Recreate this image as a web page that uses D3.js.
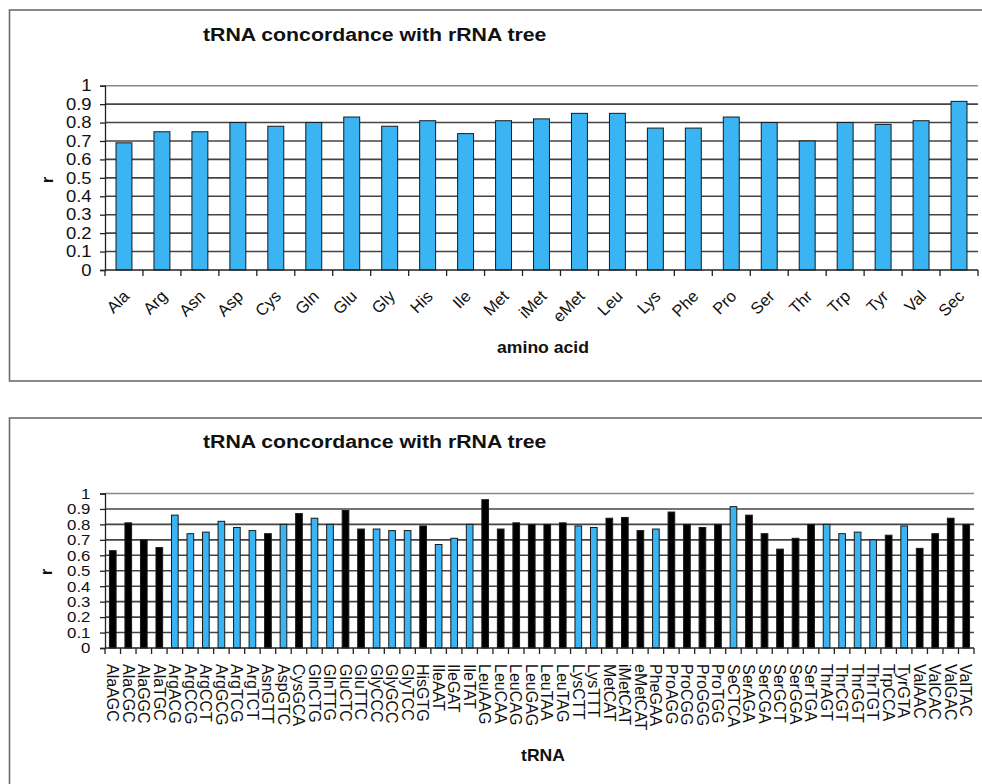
<!DOCTYPE html>
<html>
<head>
<meta charset="utf-8">
<script src="https://cdn.jsdelivr.net/npm/d3@7/dist/d3.min.js"></script>
<style>
  html, body { margin: 0; padding: 0; background: #fff; }
  svg { display: block; }
  text { font-family: "Liberation Sans", Arial, sans-serif; fill: #111; }
</style>
</head>
<body>
<svg id="chart" width="982" height="784"></svg>
<script>
// ---- Amino-acid level concordance ----
const aminoAcids = ["Ala","Arg","Asn","Asp","Cys","Gln","Glu","Gly","His","Ile","Met","iMet","eMet","Leu","Lys","Phe","Pro","Ser","Thr","Trp","Tyr","Val","Sec"];
const aminoR = [0.69,0.75,0.75,0.80,0.78,0.80,0.83,0.78,0.81,0.74,0.81,0.82,0.85,0.85,0.77,0.77,0.83,0.80,0.70,0.80,0.79,0.81,0.915];

// ---- Per-tRNA (anticodon) concordance ----
const tRNAs = ["AlaAGC","AlaCGC","AlaGGC","AlaTGC","ArgACG","ArgCCG","ArgCCT","ArgGCG","ArgTCG","ArgTCT",
  "AsnGTT","AspGTC","CysGCA","GlnCTG","GlnTTG","GluCTC","GluTTC","GlyCCC","GlyGCC","GlyTCC",
  "HisGTG","IleAAT","IleGAT","IleTAT","LeuAAG","LeuCAA","LeuCAG","LeuGAG","LeuTAA","LeuTAG",
  "LysCTT","LysTTT","MetCAT","iMetCAT","eMetCAT","PheGAA","ProAGG","ProCGG","ProGGG","ProTGG",
  "SeCTCA","SerAGA","SerCGA","SerGCT","SerGGA","SerTGA","ThrAGT","ThrCGT","ThrGGT","ThrTGT",
  "TrpCCA","TyrGTA","ValAAC","ValCAC","ValGAC","ValTAC"];
const tRNAr = [0.63,0.81,0.70,0.65,0.86,0.74,0.75,0.82,0.78,0.76,
  0.74,0.80,0.87,0.84,0.80,0.89,0.77,0.77,0.76,0.76,
  0.79,0.67,0.71,0.80,0.96,0.77,0.81,0.80,0.80,0.81,
  0.79,0.78,0.84,0.845,0.76,0.77,0.88,0.80,0.78,0.80,
  0.915,0.86,0.74,0.64,0.71,0.80,0.80,0.74,0.75,0.70,
  0.73,0.79,0.645,0.74,0.84,0.80];
// group of each tRNA (0 = group A, 1 = group B)
const tRNAgroup = [0,0,0,0,1,1,1,1,1,1,
  0,1,0,1,1,0,0,1,1,1,
  0,1,1,1,0,0,0,0,0,0,
  1,1,0,0,0,1,0,0,0,0,
  1,0,0,0,0,0,1,1,1,1,
  0,1,0,0,0,0];

const rTicks = [0,0.1,0.2,0.3,0.4,0.5,0.6,0.7,0.8,0.9,1];
const chartTitle = "tRNA concordance with rRNA tree";

const BLUE = "#3AB4F2";
const groupColor = d3.scaleOrdinal().domain([0,1]).range(["#000000", BLUE]);
const WIDE = 1.12;   // horizontal stretch of the lettering

const svg = d3.select("#chart");

function panel(opts) {
  const g = svg.append("g");
  // panel frame (open to the right edge)
  g.append("rect")
    .attr("x", 9.5).attr("y", opts.frameTop)
    .attr("width", 1000).attr("height", opts.frameH)
    .attr("fill", "none").attr("stroke", "#6d6d6d").attr("stroke-width", 1.6);

  g.append("text")
    .attr("transform", `translate(203,${opts.titleY}) scale(${WIDE},1)`)
    .attr("font-size", 19).attr("font-weight", "bold")
    .text(chartTitle);

  const x = d3.scaleBand().domain(opts.cats)
    .range([opts.x0, opts.x1]).paddingInner(opts.pad).paddingOuter(opts.pad / 2);
  const y = d3.scaleLinear().domain([0, 1]).range([opts.y0, opts.y1]);
  const step = x.step();

  // horizontal grid lines
  g.append("g").selectAll("line").data(rTicks.slice(1)).join("line")
    .attr("x1", opts.x0).attr("x2", opts.x1)
    .attr("y1", d => y(d)).attr("y2", d => y(d))
    .attr("stroke", d => d === 1 ? "#888" : "#444").attr("stroke-width", 1.6);

  // y axis
  const yAxis = g.append("g").attr("transform", `translate(${opts.x0},0)`)
    .call(d3.axisLeft(y).tickValues(rTicks).tickFormat(d3.format("~g")).tickSize(5).tickPadding(opts.yPad));
  yAxis.select(".domain").attr("stroke", "#222").attr("stroke-width", 1.3);
  yAxis.selectAll(".tick line").attr("stroke", "#222").attr("stroke-width", 1.3);
  yAxis.selectAll(".tick text").attr("font-size", opts.yFont)
    .attr("transform", `scale(${WIDE},1)`)
    .attr("font-family", "Liberation Sans, Arial, sans-serif").attr("fill", "#111");

  // bars
  g.append("g").selectAll("rect").data(opts.cats).join("rect")
    .attr("x", d => x(d)).attr("width", x.bandwidth())
    .attr("y", (d, i) => y(opts.vals[i]))
    .attr("height", (d, i) => y(0) - y(opts.vals[i]))
    .attr("fill", (d, i) => opts.color(i))
    .attr("stroke", "#1a1a1a").attr("stroke-width", 1);

  // x axis line and category boundary ticks
  g.append("line").attr("x1", opts.x0).attr("x2", opts.x1)
    .attr("y1", y(0)).attr("y2", y(0)).attr("stroke", "#222").attr("stroke-width", 1.5);
  const bounds = d3.range(opts.cats.length + 1).map(i => opts.x0 + i * step);
  g.append("g").selectAll("line").data(bounds).join("line")
    .attr("x1", d => d).attr("x2", d => d)
    .attr("y1", y(0)).attr("y2", y(0) + 6)
    .attr("stroke", "#222").attr("stroke-width", 1.3);

  // y axis title
  g.append("text")
    .attr("transform", `translate(${opts.rX},${opts.rY}) rotate(-90)`)
    .attr("text-anchor", "middle").attr("font-size", 17).attr("font-weight", "bold")
    .text("r");

  // x axis title
  g.append("text")
    .attr("transform", `translate(543,${opts.xTitleY}) scale(1.1,1)`)
    .attr("text-anchor", "middle").attr("font-size", 16).attr("font-weight", "bold")
    .text(opts.xTitle);

  return { g, x, y };
}

// ---- upper panel: amino acids ----
const aaPanel = panel({
  frameTop: 10, frameH: 371, titleY: 41,
  cats: aminoAcids, vals: aminoR, color: () => BLUE,
  x0: 105, x1: 978, y0: 270, y1: 85.7, pad: 0.58,
  yFont: 16.5, yPad: 7, rX: 53, rY: 180,
  xTitle: "amino acid", xTitleY: 353
});
aaPanel.g.append("g").selectAll("text").data(aminoAcids).join("text")
  .attr("transform", d => `translate(${aaPanel.x(d) + aaPanel.x.bandwidth() / 2 - 2},${289}) rotate(-45)`)
  .attr("text-anchor", "end").attr("dy", "0.71em")
  .attr("font-size", 16.5)
  .text(d => d);

// ---- lower panel: individual tRNAs ----
const trnaPanel = panel({
  frameTop: 418, frameH: 400, titleY: 448,
  cats: tRNAs, vals: tRNAr, color: i => groupColor(tRNAgroup[i]),
  x0: 105, x1: 974, y0: 648, y1: 493.5, pad: 0.57,
  yFont: 15, yPad: 8, rX: 52, rY: 572,
  xTitle: "tRNA", xTitleY: 761
});
trnaPanel.g.append("g").selectAll("text").data(tRNAs).join("text")
  .attr("transform", d => `translate(${trnaPanel.x(d) + trnaPanel.x.bandwidth() / 2},${664}) rotate(90)`)
  .attr("text-anchor", "start").attr("dy", "0.36em")
  .attr("font-size", 16)
  .text(d => d);
</script>
</body>
</html>
